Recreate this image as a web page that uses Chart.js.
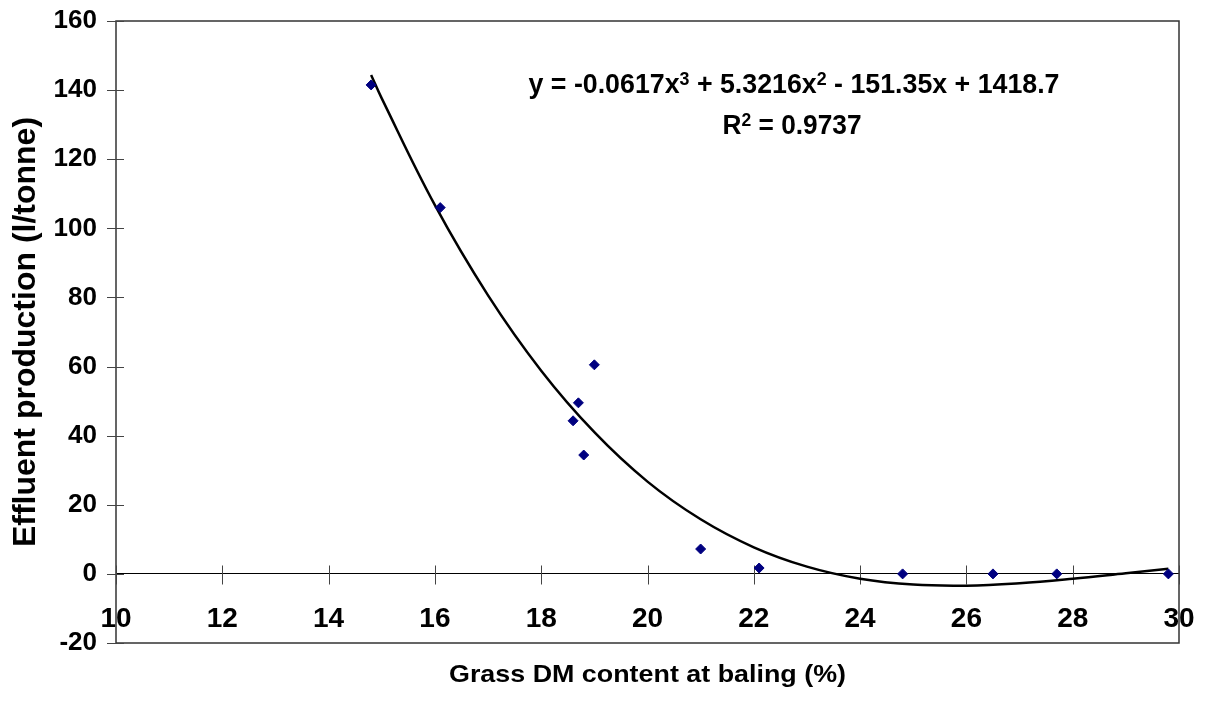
<!DOCTYPE html>
<html>
<head>
<meta charset="utf-8">
<script src="https://cdn.jsdelivr.net/npm/chart.js@4.4.1/dist/chart.umd.min.js"></script>
<style>
  html, body { margin: 0; padding: 0; background: #fff; }
  #wrap { width: 1205px; height: 713px; }
</style>
</head>
<body>
<div id="wrap"><canvas id="chart" width="1205" height="713"></canvas></div>
<script>
// observed points: grass DM content (%) vs effluent (l/tonne)
const dmContent = [14.8, 16.1, 18.6, 18.7, 18.8, 19.0, 21.0, 22.1, 24.8, 26.5, 27.7, 29.8];
const effluent = [141.5, 106, 44.3, 49.5, 34.4, 60.5, 7.2, 1.7, 0, 0, 0, 0];

// trend line
const trendX = [14.8, 15, 16, 17, 18, 19, 20, 21, 22, 23, 24, 25, 26, 27, 28, 29, 29.8];
const trendY = [144.4, 137.6, 106.7, 80.6, 58.8, 41.0, 26.7, 15.8, 7.7, 2.1, -1.4, -3.1, -3.4, -2.7, -1.4, 0.2, 1.5];

const xTicks = [10, 12, 14, 16, 18, 20, 22, 24, 26, 28, 30];
const yTicks = [-20, 0, 20, 40, 60, 80, 100, 120, 140, 160];

const eqLine1 = [['y = -0.0617x', false], ['3', true], [' + 5.3216x', false], ['2', true], [' - 151.35x + 1418.7', false]];
const eqLine2 = [['R', false], ['2', true], [' = 0.9737', false]];
const xTitle = 'Grass DM content at baling (%)';
const yTitle = 'Effluent production (l/tonne)';

const FAMILY = '"Liberation Sans", Arial, sans-serif';
Chart.defaults.font.family = FAMILY;
Chart.defaults.color = '#000';

// draws text with superscripts, squeezed to a target width
function drawRich(ctx, parts, cx, baseline, size, targetW) {
  const main = 'bold ' + size + 'px ' + FAMILY;
  const sup = 'bold ' + Math.round(size * 0.65) + 'px ' + FAMILY;
  let w = 0;
  parts.forEach(p => { ctx.font = p[1] ? sup : main; w += ctx.measureText(p[0]).width; });
  const sx = targetW ? targetW / w : 1;
  ctx.save();
  ctx.translate(cx - w * sx / 2, baseline);
  ctx.scale(sx, 1);
  ctx.fillStyle = '#000';
  ctx.textBaseline = 'alphabetic';
  ctx.textAlign = 'left';
  let x = 0;
  parts.forEach(p => {
    ctx.font = p[1] ? sup : main;
    ctx.fillText(p[0], x, p[1] ? -size * 0.3 : 0);
    x += ctx.measureText(p[0]).width;
  });
  ctx.restore();
}

const framePlugin = {
  id: 'frame',
  beforeDatasetsDraw(chart) {
    const { ctx, chartArea: a, scales: { x, y } } = chart;
    ctx.save();
    ctx.strokeStyle = '#333';
    ctx.lineWidth = 1.5;
    ctx.strokeRect(a.left, a.top, a.right - a.left, a.bottom - a.top);
    // crossing tick marks
    ctx.strokeStyle = '#444';
    ctx.lineWidth = 1;
    const y0 = Math.round(y.getPixelForValue(0)) + 0.5;
    xTicks.forEach(v => {
      const px = Math.round(x.getPixelForValue(v)) + 0.5;
      ctx.beginPath(); ctx.moveTo(px, y0 - 9); ctx.lineTo(px, y0 + 10); ctx.stroke();
    });
    yTicks.forEach(v => {
      const py = Math.round(y.getPixelForValue(v)) + 0.5;
      ctx.beginPath(); ctx.moveTo(a.left - 9, py); ctx.lineTo(a.left + 8, py); ctx.stroke();
    });
    ctx.restore();
  },
  afterDraw(chart) {
    const { ctx, chartArea: a } = chart;
    ctx.save();
    ctx.font = 'bold 24px ' + FAMILY;
    ctx.fillStyle = '#000';
    ctx.textAlign = 'center';
    ctx.textBaseline = 'alphabetic';
    const tw = ctx.measureText(xTitle).width;
    ctx.translate((a.left + a.right) / 2, 682);
    ctx.scale(397 / tw, 1);
    ctx.fillText(xTitle, 0, 0);
    ctx.restore();
    drawRich(ctx, eqLine1, 794, 93, 27, 531);
    drawRich(ctx, eqLine2, 792, 134, 27, 139);
  }
};

new Chart(document.getElementById('chart'), {
  type: 'scatter',
  data: {
    datasets: [
      {
        label: 'Effluent',
        data: dmContent.map((v, i) => ({ x: v, y: effluent[i] })),
        pointStyle: 'rectRot',
        pointRadius: 5,
        pointHoverRadius: 5,
        backgroundColor: '#000080',
        borderColor: '#000080',
        borderWidth: 1,
        order: 0
      },
      {
        label: 'Poly. trend',
        data: trendX.map((v, i) => ({ x: v, y: trendY[i] })),
        showLine: true,
        tension: 0.4,
        pointRadius: 0,
        borderColor: '#000',
        borderWidth: 2.5,
        order: 1
      }
    ]
  },
  options: {
    responsive: false,
    animation: false,
    devicePixelRatio: 1,
    layout: { padding: { left: 0, top: 21, right: 26, bottom: 70 } },
    plugins: { legend: { display: false }, tooltip: { enabled: false } },
    scales: {
      x: {
        type: 'linear',
        position: { y: 0 },
        min: 10,
        max: 30,
        afterBuildTicks: s => { s.ticks = xTicks.map(v => ({ value: v })); },
        grid: { color: 'transparent', drawOnChartArea: false, tickLength: 19 },
        border: { display: true, color: '#000', width: 1 },
        ticks: { font: { size: 28, weight: 'bold' }, color: '#000', padding: 10, maxRotation: 0 }
      },
      y: {
        type: 'linear',
        position: 'left',
        min: -20,
        max: 160,
        afterBuildTicks: s => { s.ticks = yTicks.map(v => ({ value: v })); },
        afterFit: s => { s.width = 116; },
        grid: { color: 'transparent', drawOnChartArea: false, tickLength: 14 },
        border: { display: false },
        ticks: { font: { size: 26, weight: 'bold' }, color: '#000', padding: 5 },
        title: {
          display: true,
          text: yTitle,
          font: { size: 32, weight: 'bold' },
          color: '#000',
          padding: { top: 7, bottom: 0 }
        }
      }
    }
  },
  plugins: [framePlugin]
});
</script>
</body>
</html>
